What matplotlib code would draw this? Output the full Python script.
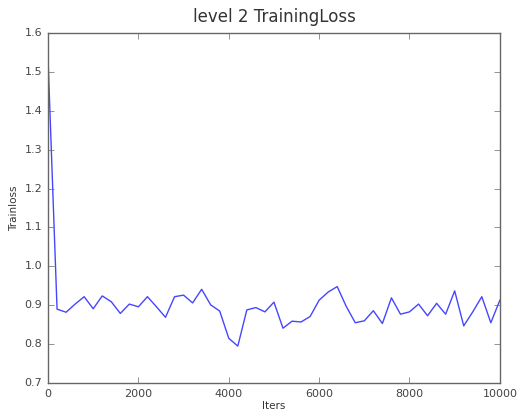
import matplotlib
matplotlib.use('Agg')
import matplotlib.pyplot as plt
import numpy as np

# training loss logged every 200 iters
iters = list(range(0, 10001, 200))
loss = [1.535, 0.890, 0.882, 0.903, 0.922, 0.891, 0.924, 0.909, 0.879, 0.903,
        0.896, 0.922, 0.896, 0.869, 0.922, 0.926, 0.906, 0.941, 0.901, 0.885,
        0.815, 0.795, 0.888, 0.894, 0.883, 0.908, 0.841, 0.859, 0.857, 0.871,
        0.913, 0.934, 0.948, 0.897, 0.855, 0.860, 0.886, 0.853, 0.919, 0.877,
        0.883, 0.903, 0.873, 0.905, 0.877, 0.937, 0.847, 0.883, 0.922, 0.855,
        0.913]

plt.style.use('classic')
fig = plt.figure(figsize=(5.18, 4.19), dpi=100, facecolor='white')
ax = fig.add_axes([0.0927, 0.0859, 0.8723, 0.8351])

ax.plot(iters, loss, color='#4646ff', lw=1.0)
ax.set_xlim(0, 10000)
ax.set_ylim(0.7, 1.6)
ax.set_xticks(np.arange(0, 10001, 2000))
ax.set_yticks(np.arange(0.7, 1.61, 0.1))
ax.tick_params(labelsize=8, direction='in', length=4, color='#666666',
               labelcolor='#444444', pad=4)
for s in ax.spines.values():
    s.set_color('#666666')

ax.set_title('level 2 TrainingLoss', fontsize=12, pad=8, color='#333333')
ax.set_xlabel('Iters', fontsize=7.5, labelpad=2, color='#333333')
ax.set_ylabel('Trainloss', fontsize=7.5, labelpad=4, color='#333333')

fig.savefig('out.png', dpi=100, facecolor='white')
